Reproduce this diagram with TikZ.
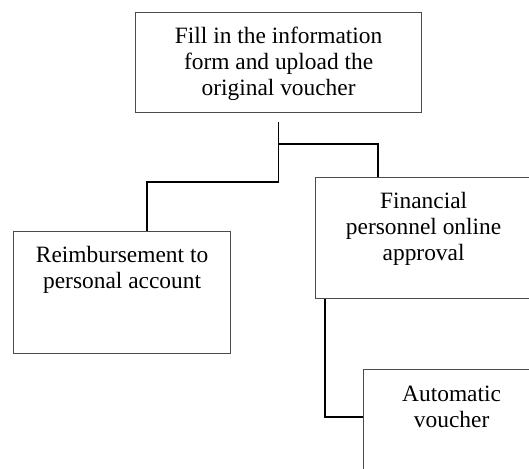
\documentclass[tikz,border=0pt]{standalone}
\usepackage{fontspec}
\setmainfont{Liberation Serif}
\usetikzlibrary{positioning}
\definecolor{boxgray}{RGB}{75,75,75}
\tikzset{
	box/.style={draw=boxgray, line width=0.6pt, fill=white, inner sep=0pt},
	lbl/.style={align=center, inner sep=0pt, font=\fontsize{11.7}{13}\selectfont},
	link/.style={draw=black, line width=0.85pt}
}
\begin{document}
\begin{tikzpicture}[x=0.5pt, y=-0.5pt]
	\clip (0,0) rectangle (529,468);
	% Kaesten
	\node[box, anchor=north west, minimum width=143pt, minimum height=50pt] (upload) at (135,12) {};
	\node[box, anchor=north west, minimum width=108.5pt, minimum height=61pt] (refund) at (13,231) {};
	\node[box, anchor=north west, minimum width=108pt, minimum height=60.5pt] (approval) at (315,177) {};
	\node[box, anchor=north west, minimum width=88pt, minimum height=60pt] (voucher) at (363,369) {};
	% Beschriftungen
	\node[lbl, below=7.5pt of upload.north] (uploadtxt) {Fill in the information\\form and upload the\\original voucher};
	\node[lbl, below=7.5pt of refund.north] (refundtxt) {Reimbursement to\\personal account};
	\node[lbl, below=7.5pt of approval.north] (approvaltxt) {Financial\\personnel online\\approval};
	\node[lbl, below=8.5pt of voucher.north] (vouchertxt) {Automatic\\voucher};
	% Verbindungen
	\coordinate (start) at ([yshift=-4.5pt]upload.south);
	\coordinate (fork) at (278,144);
	\coordinate (leftbend) at (147,182);
	\coordinate (rightbend) at (378,144);
	\coordinate (downbend) at (325,417);
	\draw[link] (start) |- (leftbend) -- (leftbend |- refund.north);
	\draw[link] (fork) -- (rightbend) -- (rightbend |- approval.north);
	\draw[link] (downbend |- approval.south) -- (downbend) -- (downbend -| voucher.west);
\end{tikzpicture}
\end{document}
